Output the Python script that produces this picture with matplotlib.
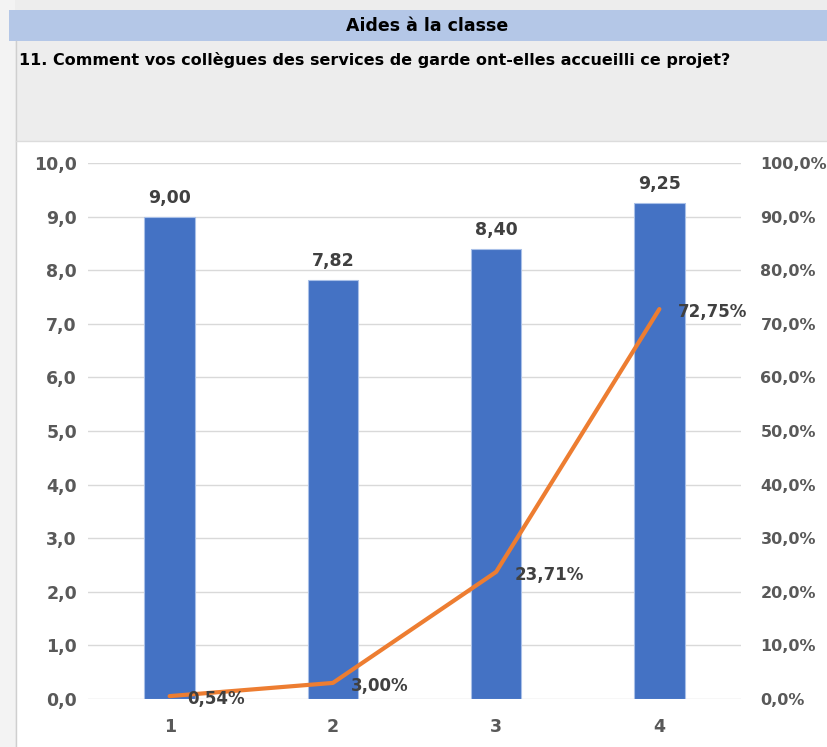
import matplotlib
matplotlib.use("Agg")
import matplotlib.pyplot as plt
from matplotlib.patches import Rectangle
from matplotlib.lines import Line2D

categories = ["1", "2", "3", "4"]
bar_values = [9.00, 7.82, 8.40, 9.25]
pct_values = [0.54, 3.00, 23.71, 72.75]
left_ticks = [0, 1, 2, 3, 4, 5, 6, 7, 8, 9, 10]
right_ticks = [0, 10, 20, 30, 40, 50, 60, 70, 80, 90, 100]
title = "Aides à la classe"
question = "11. Comment vos collègues des services de garde ont-elles accueilli ce projet?"

W, H = 827, 747
fig = plt.figure(figsize=(W / 100, H / 100), dpi=100)
fig.patch.set_facecolor("#ededed")

def px_rect(x0, y0, x1, y1, color, z=-10):
    fig.patches.append(Rectangle((x0 / W, 1 - y1 / H), (x1 - x0) / W, (y1 - y0) / H,
                                 transform=fig.transFigure, facecolor=color,
                                 edgecolor="none", zorder=z))

# backgrounds
px_rect(0, 0, 15, H, "#f3f3f3")
px_rect(16, 141, W, H, "white")
px_rect(9, 10, W, 41, "#b4c7e7")
fig.lines.append(Line2D([15.5 / W, 15.5 / W], [0, 1 - 41 / H], transform=fig.transFigure,
                        color="#cfcfcf", lw=1, zorder=-5))
fig.lines.append(Line2D([16 / W, 1], [1 - 140.5 / H, 1 - 140.5 / H], transform=fig.transFigure,
                        color="#dcdcdc", lw=1, zorder=-5))

fam = ["DejaVu Sans"]
fig.text(427 / W, 1 - 26 / H, title, ha="center", va="center", fontsize=12.5,
         fontweight="bold", color="black", family=fam)
fig.text(19 / W, 1 - 60 / H, question, ha="left", va="center", fontsize=11.5,
         fontweight="bold", color="black", family=fam)

ax = fig.add_axes([88 / W, 48 / H, (741 - 88) / W, (699 - 163) / H])
ax.set_facecolor("white")
x = list(range(len(categories)))
ax.bar(x, bar_values, width=0.31, color="#4472c4", edgecolor="#a9c0e8", linewidth=0.8, zorder=2)
ax.set_xlim(-0.5, len(categories) - 0.5)
ax.set_ylim(0, 10)
ax.set_yticks(left_ticks)
ax.set_yticklabels([f"{v:.1f}".replace(".", ",") for v in left_ticks])
ax.set_xticks(x)
ax.set_xticklabels(categories)
ax.grid(axis="y", color="#d9d9d9", lw=1, zorder=0)
ax.set_axisbelow(True)
for s in ax.spines.values():
    s.set_visible(False)
ax.tick_params(axis="both", length=0, labelcolor="#595959", labelsize=12.5)
ax.tick_params(axis="y", pad=8)
ax.tick_params(axis="x", pad=14)
for lab in ax.get_xticklabels() + ax.get_yticklabels():
    lab.set_fontweight("bold")
    lab.set_family(fam)

for xi, v in zip(x, bar_values):
    ax.annotate(f"{v:.2f}".replace(".", ","), (xi, v), xytext=(0, 7), textcoords="offset points",
                ha="center", va="bottom", fontsize=12.5, fontweight="bold", color="#404040",
                family=fam)

ax2 = ax.twinx()
ax2.set_ylim(0, 100)
ax2.plot(x, pct_values, color="#ed7d31", lw=3, solid_capstyle="round", zorder=3)
ax2.set_yticks(right_ticks)
ax2.set_yticklabels([f"{v:.1f}%".replace(".", ",") for v in right_ticks])
for s in ax2.spines.values():
    s.set_visible(False)
ax2.tick_params(axis="y", length=0, labelcolor="#595959", labelsize=11.5, pad=14)
for lab in ax2.get_yticklabels():
    lab.set_fontweight("bold")
    lab.set_family(fam)
for xi, v in zip(x, pct_values):
    ax2.annotate(f"{v:.2f}%".replace(".", ","), (xi, v), xytext=(13, -2), textcoords="offset points",
                 ha="left", va="center", fontsize=12, fontweight="bold", color="#404040",
                 family=fam)

fig.savefig("out.png", dpi=100)
